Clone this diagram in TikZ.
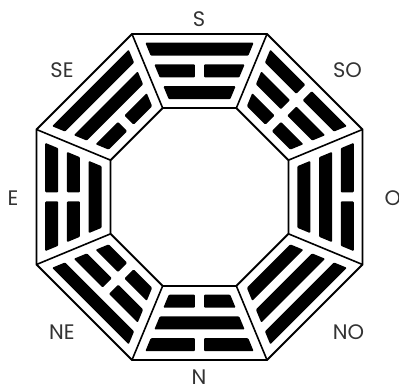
\documentclass[tikz,border=0pt]{standalone}
\usepackage{fontspec}
\setmainfont{Poppins}

\begin{document}
\begin{tikzpicture}[x=1pt, y=1pt,
  bar/.style={fill=black, rounded corners=1pt},
  rim/.style={line width=1.9pt, line join=miter},
  divider/.style={line width=1.6pt},
  compass/.style={font=\fontsize{21}{21}\selectfont, text=black!80, inner sep=0pt}]
  \useasboundingbox (-199.5,-193) rectangle (199.5,197);
  % Octagon corners
  \foreach \k in {1,...,8}{
    \coordinate (out\k) at ({22.5+45*(\k-1)}:176.4);
    \coordinate (in\k) at ({22.5+45*(\k-1)}:96.3);
  }
  % Outer and inner rims
  \draw[rim] (out1) \foreach \k in {2,...,8}{ -- (out\k)} -- cycle;
  \draw[rim] (in1) \foreach \k in {2,...,8}{ -- (in\k)} -- cycle;
  % Dividers between the eight fields
  \foreach \k in {1,...,8}
    \draw[divider] (in\k) -- (out\k);
  % Trigrams: outer, middle, inner line (1 = whole, 0 = broken)
  \foreach \ang/\a/\b/\c in {90/1/0/1, 45/0/0/0, 0/0/1/1, -45/1/1/1,
                             -90/0/1/0, -135/1/0/0, 180/0/0/1, 135/1/1/0}{
    \begin{scope}[rotate=\ang-90]
      \foreach \whole/\ra/\rb in {\a/141.25/154.25, \b/119.5/132.5, \c/97.75/110.75}{
        \pgfmathsetmacro{\wa}{\ra*0.41421-9.74}
        \pgfmathsetmacro{\wb}{\rb*0.41421-9.74}
        \ifnum\whole=1
          \fill[bar] (-\wb,\rb) -- (\wb,\rb) -- (\wa,\ra) -- (-\wa,\ra) -- cycle;
        \else
          \fill[bar] (-\wb,\rb) -- (-4.5,\rb) -- (-4.5,\ra) -- (-\wa,\ra) -- cycle;
          \fill[bar] (4.5,\rb) -- (\wb,\rb) -- (\wa,\ra) -- (4.5,\ra) -- cycle;
        \fi
      }
    \end{scope}
  }
  % Compass points
  \foreach \lab/\lx/\ly in {S/-0.5/178, SO/148/127, NO/149/-135, N/-0.5/-180.5,
                            NE/-137.5/-135, E/-186.5/-1, SE/-137.5/127}
    \node[compass] (lab\lab) at (\lx,\ly) {\lab};
  \node[compass, anchor=west] (labO) at (185,-1) {O};
\end{tikzpicture}
\end{document}
